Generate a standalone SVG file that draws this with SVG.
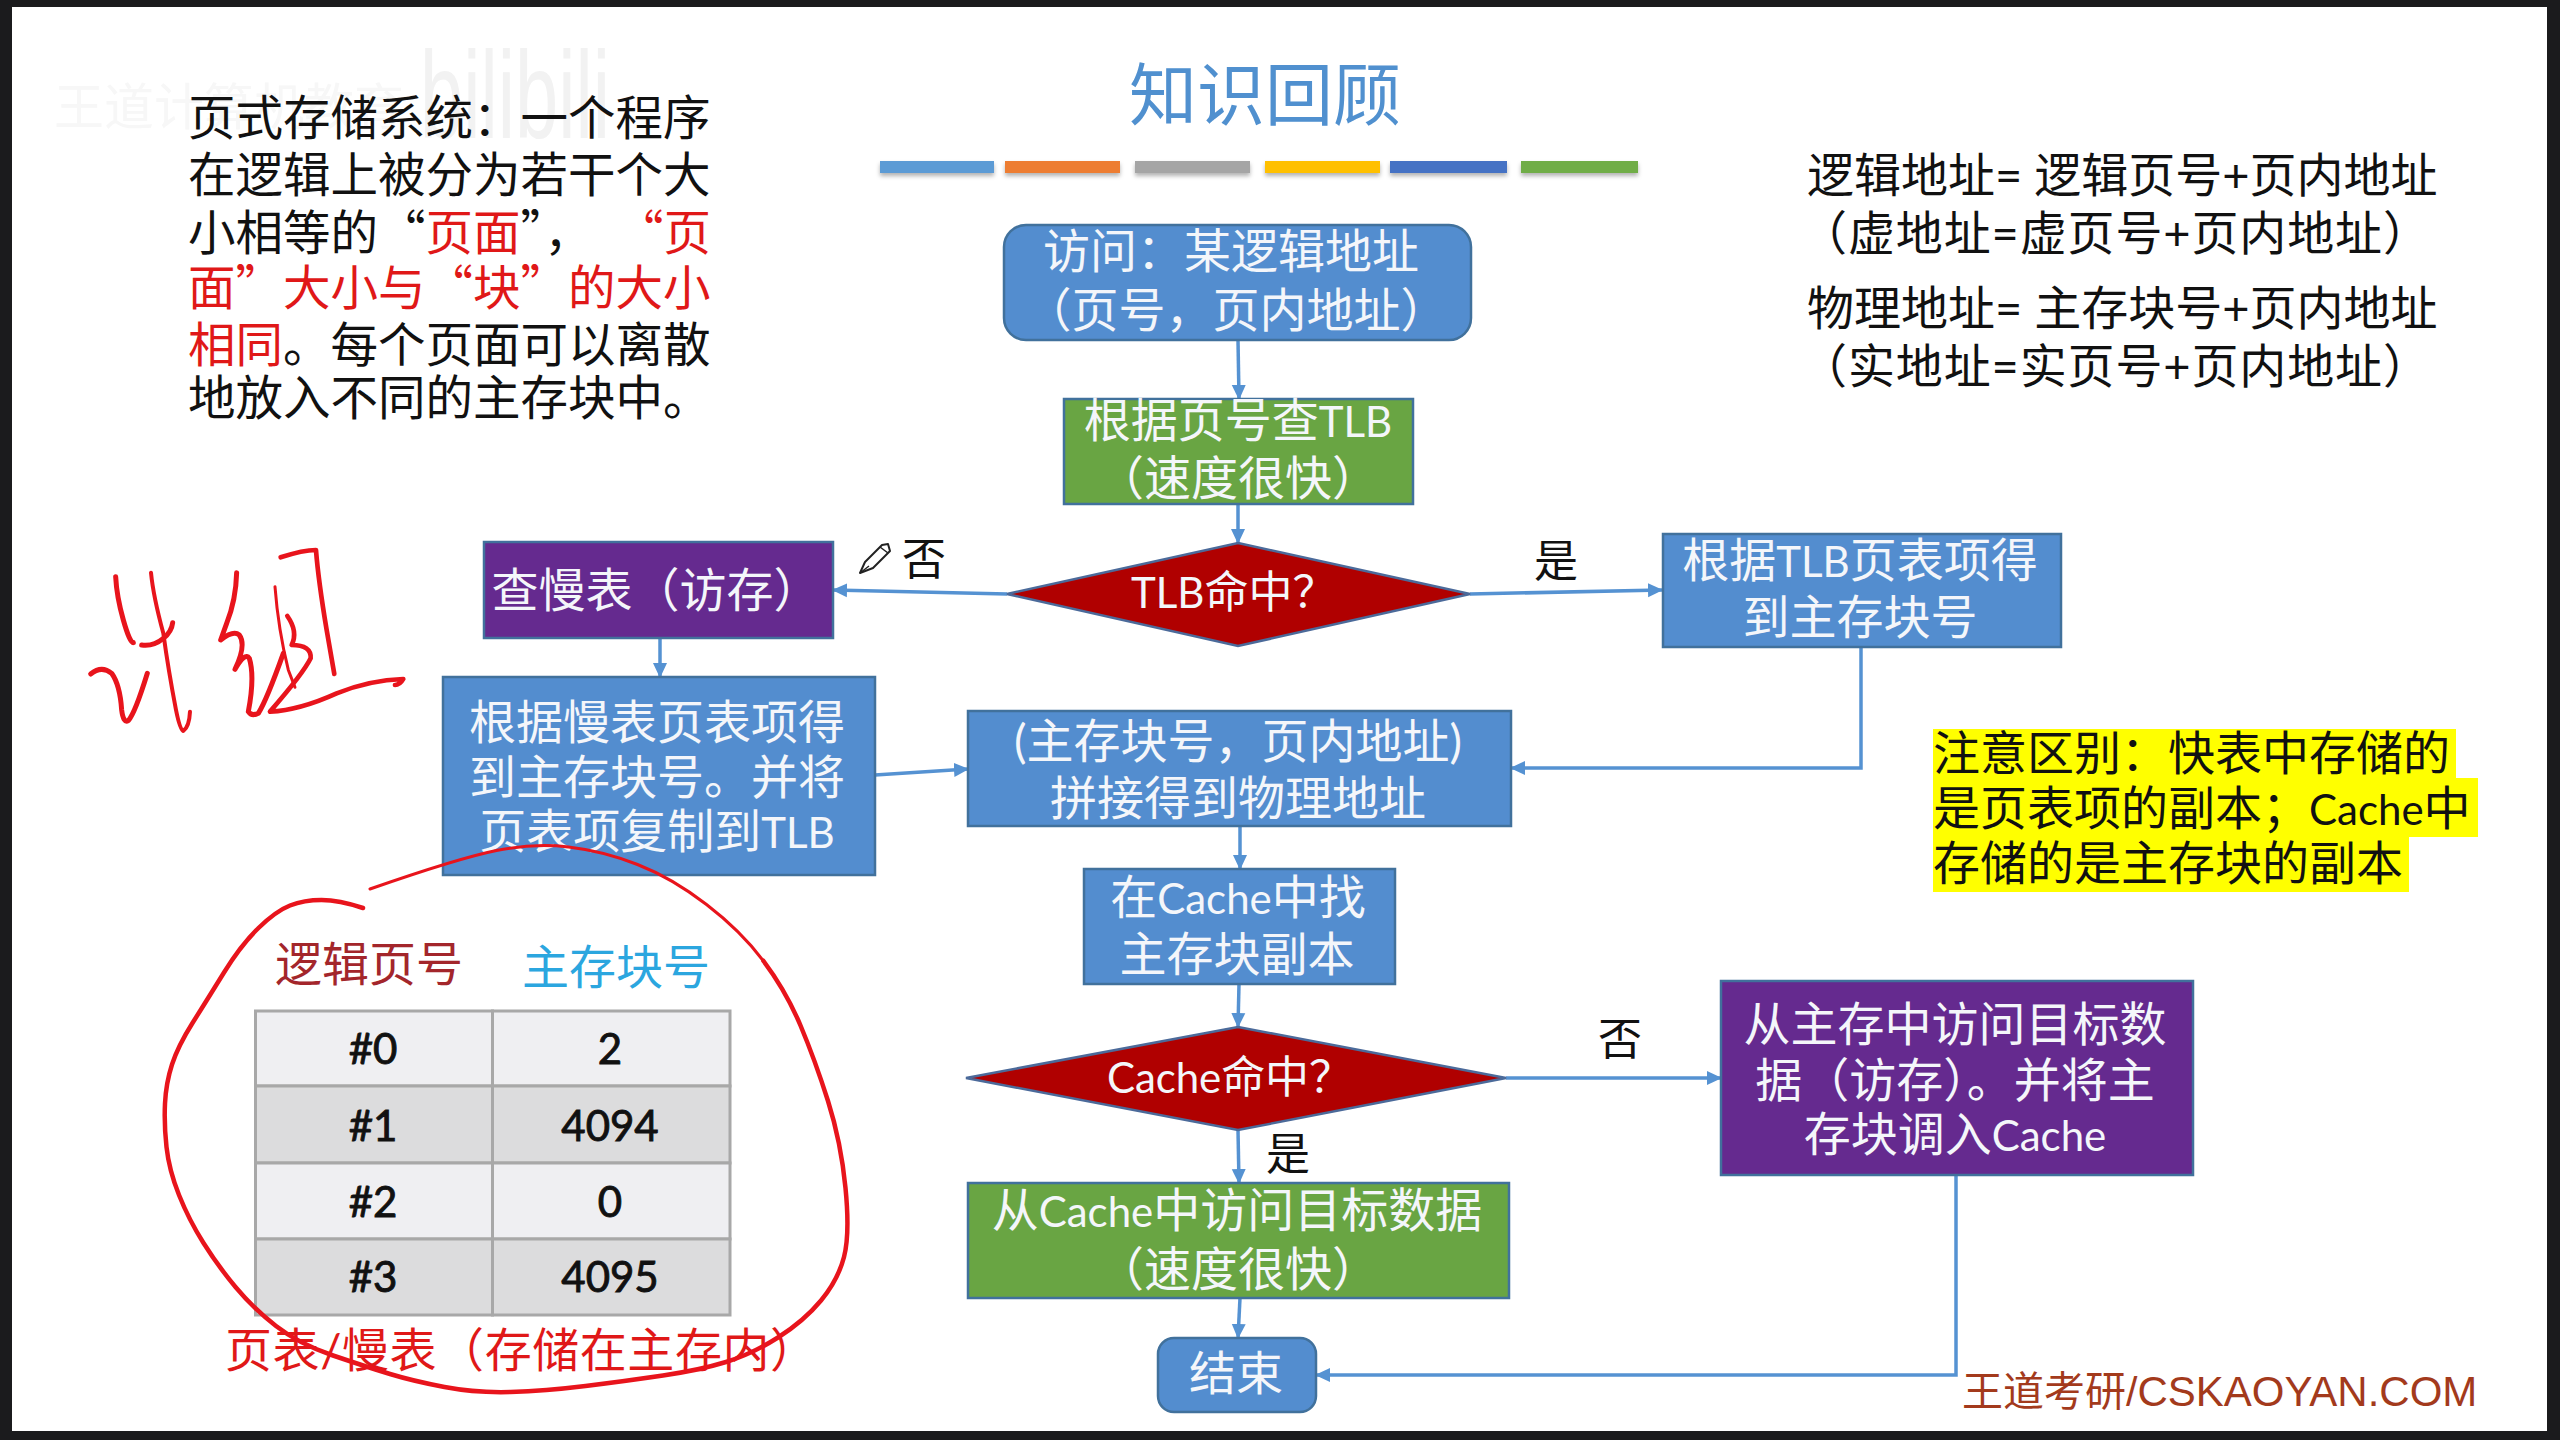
<svg xmlns="http://www.w3.org/2000/svg" width="2560" height="1440" viewBox="0 0 2560 1440">
<defs>
<style>
text{font-family:"Lato","Noto Sans CJK SC",sans-serif;font-size:47px;fill:#111}
.c{text-anchor:middle}
.w{fill:#f4f6fa}
.l{font-size:42px}
.d{font-size:44px}
.d .l{font-size:42px}
.r{fill:#e01818}
.q{font-family:"Noto Sans CJK SC",sans-serif}
.i{font-size:47.500px}
.box{stroke:#41719c;stroke-width:2.5}
.blue{fill:#538dcf}
.green{fill:#69a543}
.purple{fill:#652a8f}
.dia{fill:#b00000;stroke:#4b6a9a;stroke-width:2.5}
.con{fill:none;stroke:#5592d2;stroke-width:3.5}
.arr{marker-end:url(#ah)}
.bar{filter:url(#sh)}
.ink{fill:none;stroke:#e8141c;stroke-linecap:round;stroke-linejoin:round}
.cell{stroke:#a8a8a8;stroke-width:3}
.li{fill:#efeff2}
.da{fill:#dcdcdd}
.n{font-size:42px;stroke:#111;stroke-width:.9}
</style>
<marker id="ah" markerUnits="userSpaceOnUse" markerWidth="16" markerHeight="16" refX="14" refY="8" orient="auto">
<path d="M0 1L15 8L0 15Z" fill="#5592d2"/>
</marker>
<filter id="sh" x="-5%" y="-50%" width="110%" height="220%"><feDropShadow dx="0" dy="3" stdDeviation="2" flood-color="#000" flood-opacity=".3"/></filter>
</defs>
<rect width="2560" height="1440" fill="#1b1b1d"/>
<rect x="12" y="7" width="2535" height="1424" fill="#fff"/>

<g id="faint-watermark">
<text x="54" y="125" style="font-size:50px;fill:#f7f7f7">王道计算机教育</text>
<text x="420" y="138" textLength="190" lengthAdjust="spacingAndGlyphs" style="font-size:125px;fill:#f2f2f2;font-family:'Liberation Sans',sans-serif">bilibili</text>
</g>

<g id="title">
<text class="c" x="1265" y="120" style="font-size:68px;fill:#5090cf">知识回顾</text>
<rect class="bar" x="880" y="161" width="114" height="12" fill="#5b9bd5"/>
<rect class="bar" x="1005" y="161" width="115" height="12" fill="#ed7d31"/>
<rect class="bar" x="1135" y="161" width="115" height="12" fill="#a5a5a5"/>
<rect class="bar" x="1265" y="161" width="115" height="12" fill="#ffc000"/>
<rect class="bar" x="1390" y="161" width="117" height="12" fill="#4472c4"/>
<rect class="bar" x="1521" y="161" width="117" height="12" fill="#70ad47"/>
</g>

<g id="intro-text">
<text class="i" x="188" y="135">页式存储系统&#xFF1A;一个程序</text>
<text class="i" x="188" y="192">在逻辑上被分为若干个大</text>
<text class="q i" x="188" y="250">小相等的&#x201C;<tspan class="r">页面</tspan>&#x201D;&#xFF0C;<tspan class="r" dx="48">&#x201C;页</tspan></text>
<text class="q r i" x="188" y="305">面&#x201D;大小与&#x201C;块&#x201D;的大小</text>
<text class="i" x="188" y="362"><tspan class="r">相同</tspan>。每个页面可以离散</text>
<text class="i" x="188" y="415">地放入不同的主存块中。</text>
</g>

<g id="address-notes">
<text x="1807" y="192">逻辑地址= 逻辑页号+页内地址</text>
<text x="1800" y="250" textLength="630">&#xFF08;虚地址=虚页号+页内地址&#xFF09;</text>
<text x="1807" y="325">物理地址= 主存块号+页内地址</text>
<text x="1800" y="383" textLength="630">&#xFF08;实地址=实页号+页内地址&#xFF09;</text>
</g>

<g id="connectors">
<path class="con arr" d="M1238 340L1239 399"/>
<path class="con arr" d="M1238 504V543"/>
<path class="con arr" d="M1007 594L833 590"/>
<path class="con arr" d="M1470 594L1662 590"/>
<path class="con arr" d="M660 638V677"/>
<path class="con arr" d="M875 775L968 769"/>
<path class="con arr" d="M1861 646V768H1511"/>
<path class="con arr" d="M1240 826V869"/>
<path class="con arr" d="M1239 984L1238 1027"/>
<path class="con arr" d="M1238 1130L1239 1183"/>
<path class="con arr" d="M1506 1078H1721"/>
<path class="con arr" d="M1240 1298L1238 1338"/>
<path class="con arr" d="M1956 1175V1375H1316"/>
</g>

<g id="n-access"><rect class="box blue" x="1004" y="225" width="467" height="115" rx="22"/>
<text class="c w" x="1231" y="268">访问&#xFF1A;某逻辑地址</text><text class="c w" x="1236" y="327">&#xFF08;页号&#xFF0C;页内地址&#xFF09;</text></g>
<g id="n-tlb-lookup"><rect class="box green" x="1064" y="399" width="349" height="105"/>
<text class="c w" x="1238" y="437">根据页号查<tspan class="l">TLB</tspan></text><text class="c w" x="1238" y="495">&#xFF08;速度很快&#xFF09;</text></g>
<g id="n-tlb-hit"><path class="dia" d="M1238 543L1470 594L1238 646L1007 594Z"/>
<text class="w d" x="1131" y="608"><tspan class="l">TLB</tspan>命中&#xFF1F;</text></g>
<g id="n-slow-lookup"><rect class="box purple" x="484" y="542" width="349" height="96"/>
<text class="c w" x="656" y="607">查慢表&#xFF08;访存&#xFF09;</text></g>
<g id="n-tlb-block"><rect class="box blue" x="1663" y="534" width="398" height="113"/>
<text class="c w" x="1860" y="577">根据<tspan class="l">TLB</tspan>页表项得</text><text class="c w" x="1860" y="634">到主存块号</text></g>
<g id="n-slow-block"><rect class="box blue" x="443" y="677" width="432" height="198"/>
<text class="c w" x="657" y="739">根据慢表页表项得</text><text class="c w" x="657" y="794">到主存块号。并将</text><text class="c w" x="657" y="848">页表项复制到<tspan class="l">TLB</tspan></text></g>
<g id="n-physical"><rect class="box blue" x="968" y="711" width="543" height="115"/>
<text class="c w" x="1238" y="758">(主存块号&#xFF0C;页内地址)</text><text class="c w" x="1238" y="815">拼接得到物理地址</text></g>
<g id="n-cache-find"><rect class="box blue" x="1084" y="869" width="311" height="115"/>
<text class="c w" x="1238" y="914">在<tspan class="l">Cache</tspan>中找</text><text class="c w" x="1237" y="971">主存块副本</text></g>
<g id="n-cache-hit"><path class="dia" d="M1238 1027L1506 1078L1238 1130L966 1078Z"/>
<text class="w d" x="1107" y="1093" textLength="246"><tspan class="l">Cache</tspan>命中&#xFF1F;</text></g>
<g id="n-cache-read"><rect class="box green" x="968" y="1183" width="541" height="115"/>
<text class="c w" x="1237" y="1227">从<tspan class="l">Cache</tspan>中访问目标数据</text><text class="c w" x="1238" y="1286">&#xFF08;速度很快&#xFF09;</text></g>
<g id="n-end"><rect class="box blue" x="1158" y="1338" width="158" height="74" rx="16"/>
<text class="c w" x="1236" y="1390">结束</text></g>
<g id="n-mem-read"><rect class="box purple" x="1721" y="981" width="472" height="194"/>
<text class="c w" x="1955" y="1041">从主存中访问目标数</text><text class="c w" x="1955" y="1097">据&#xFF08;访存&#xFF09;。并将主</text><text class="c w" x="1955" y="1151">存块调入<tspan class="l">Cache</tspan></text></g>

<g id="edge-labels">
<text x="902" y="575" style="font-size:44px">否</text>
<text x="1534" y="577" style="font-size:44px">是</text>
<text x="1598" y="1055" style="font-size:44px">否</text>
<text x="1266" y="1170" style="font-size:44px">是</text>
</g>
<g id="pencil"><path d="M860 573L865 562L882 545L888 544L890 551L873 568Z" fill="#fff" stroke="#222" stroke-width="2" stroke-linejoin="round"/><path d="M880 547L888 553M860 573L869 566" fill="none" stroke="#222" stroke-width="1.5"/></g>

<g id="note">
<path d="M1933 729H2456V778H2478V837H2409V892H1933Z" fill="#ffff00"/>
<text x="1933" y="770">注意区别&#xFF1A;快表中存储的</text>
<text x="1933" y="825">是页表项的副本&#xFF1B;<tspan class="l">Cache</tspan>中</text>
<text x="1933" y="880">存储的是主存块的副本</text>
</g>

<g id="page-table">
<text x="275" y="981" style="fill:#a3262b">逻辑页号</text>
<text x="522" y="984" style="fill:#2ba6df">主存块号</text>
<rect class="cell li" x="255.500" y="1011" width="237" height="75"/><rect class="cell li" x="492.500" y="1011" width="237.500" height="75"/>
<rect class="cell da" x="255.500" y="1086" width="237" height="77"/><rect class="cell da" x="492.500" y="1086" width="237.500" height="77"/>
<rect class="cell li" x="255.500" y="1163" width="237" height="76"/><rect class="cell li" x="492.500" y="1163" width="237.500" height="76"/>
<rect class="cell da" x="255.500" y="1239" width="237" height="76"/><rect class="cell da" x="492.500" y="1239" width="237.500" height="76"/>
<text class="c n" x="373" y="1064">#0</text><text class="c n" x="610" y="1064">2</text>
<text class="c n" x="373" y="1141">#1</text><text class="c n" x="610" y="1141">4094</text>
<text class="c n" x="373" y="1217">#2</text><text class="c n" x="610" y="1217">0</text>
<text class="c n" x="373" y="1292">#3</text><text class="c n" x="610" y="1292">4095</text>
<text class="r" x="225" y="1367" textLength="592">页表/慢表&#xFF08;存储在主存内&#xFF09;</text>
</g>

<text id="brand" x="1962" y="1406" style="font-family:'Liberation Sans','Noto Sans CJK SC',sans-serif;font-size:41px;fill:#a33a1c">王道考研/<tspan style="font-size:42px">CSKAOYAN.COM</tspan></text>

<g id="ink-circle">
<path class="ink" stroke-width="4.500" d="M363 908Q339 900 321.500 900Q304 900 290 905.500Q276 911 258.500 928Q241 945 224 972.500Q207 1000 192.500 1023Q178 1046 172 1064.500Q166 1083 165 1103.500Q164 1124 166.500 1147Q169 1170 179 1195Q189 1220 203.500 1243Q218 1266 235.500 1287Q253 1308 276 1326Q299 1344 333 1355.500Q367 1367 390 1374Q413 1381 444.500 1387Q476 1393 510.500 1392Q545 1391 585.500 1386Q626 1381 663 1375.500Q700 1370 726 1362Q752 1354 778 1337.500Q804 1321 821 1300.500Q838 1280 844 1257Q850 1234 845.500 1188Q841 1142 828 1101Q815 1060 800.500 1025.500Q786 991 763.500 961"/>
<path class="ink" stroke-width="3" d="M763.500 961Q741 931 706.500 904.500Q672 878 637.500 864.500Q603 851 568.500 847Q534 843 496.500 850.500Q459 858 370 889"/>
</g>
<g id="ink-note" transform="translate(70 530) scale(.3333)">
<path class="ink" stroke-width="15" d="M137 140Q140 200 160 270T190 338"/>
<path class="ink" stroke-width="12" d="M243 128Q250 200 280 310Q295 420 318 540Q330 600 340 603Q358 590 360 545"/>
<path class="ink" stroke-width="15" d="M215 345Q250 350 280 325Q305 305 308 278"/>
<path class="ink" stroke-width="15" d="M62 432Q95 405 125 430Q150 465 155 540Q160 580 175 572Q195 550 232 430"/>
<path class="ink" stroke-width="15" d="M500 128Q498 210 470 280L452 330Q490 300 508 315Q530 345 495 418Q525 365 538 385Q555 440 535 545Q545 560 565 550Q590 510 640 370"/>
<path class="ink" stroke-width="9" d="M615 170Q625 300 655 420L675 472"/>
<path class="ink" stroke-width="14" d="M652 258Q685 305 665 345Q725 345 722 385Q700 430 600 545Q690 540 800 490Q900 450 1000 447Q990 465 975 465"/>
<path class="ink" stroke-width="14" d="M632 82Q700 60 738 60Q745 150 770 300L793 432"/>
</g>
</svg>
